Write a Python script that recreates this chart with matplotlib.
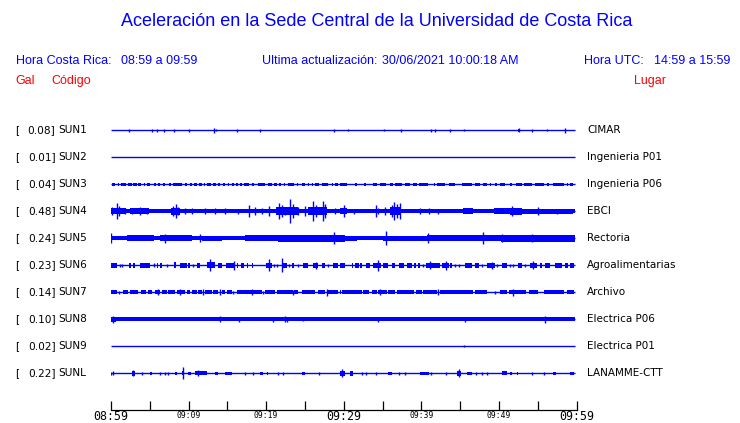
import matplotlib
matplotlib.use('Agg')
import matplotlib.pyplot as plt
import matplotlib.transforms as mtransforms

BLUE = '#0000ff'
RED = '#ff0000'

# station info
codes = ['SUN1', 'SUN2', 'SUN3', 'SUN4', 'SUN5', 'SUN6', 'SUN7', 'SUN8', 'SUN9', 'SUNL']
peaks = [0.08, 0.01, 0.04, 0.48, 0.24, 0.23, 0.14, 0.10, 0.02, 0.22]
places = ['CIMAR', 'Ingenieria P01', 'Ingenieria P06', 'EBCI', 'Rectoria',
          'Agroalimentarias', 'Archivo', 'Electrica P06', 'Electrica P01', 'LANAMME-CTT']

time_ticks = [0, 5, 10, 15, 20, 25, 30, 35, 40, 45, 50, 55, 60]
time_labels = ['08:59', '', '09:09', '', '09:19', '', '09:29', '', '09:39', '', '09:49', '', '09:59']
big_labels = ['08:59', '09:29', '09:59']

trace_end = 59.8   # minutes

# traces: blocks (start min, end min, half amplitude px), spikes (min, half amplitude px)
SUN1_blocks = [(52.5, 52.7, 1.5)]
SUN1_spikes = [(2.3, 1.3), (5.3, 1.3), (5.9, 1.3), (6.8, 1.3), (8.1, 1.3), (10.0, 1.3), (13.3, 2.5),
               (13.5, 1.0), (16.3, 1.3), (19.2, 1.3), (28.7, 1.3), (30.6, 1.0), (35.2, 1.0), (37.4, 1.3),
               (41.3, 1.3), (41.7, 1.3), (43.7, 1.3), (45.5, 1.0), (52.6, 2.0), (54.3, 1.3), (56.2, 1.0),
               (58.5, 2.5)]

SUN2_blocks = []
SUN2_spikes = []

SUN3_blocks = [(0.1, 0.5, 1.5), (0.9, 1.1, 1.5), (1.3, 1.9, 1.5), (2.2, 2.7, 1.5), (2.9, 3.3, 1.5),
               (3.5, 3.9, 1.5), (4.3, 4.4, 1.5), (4.6, 5.0, 1.5), (5.5, 5.8, 1.5), (6.1, 6.3, 1.5),
               (6.75, 7.0, 1.5), (7.5, 7.7, 1.5), (8.0, 9.2, 1.5), (9.55, 9.8, 1.5), (10.2, 10.5, 1.5),
               (10.75, 11.05, 1.5), (11.4, 11.7, 1.5), (11.95, 12.1, 1.5), (12.35, 12.9, 1.5),
               (13.2, 13.5, 1.5), (13.85, 14.05, 1.5), (14.5, 14.7, 1.5), (15.05, 15.2, 1.5),
               (15.55, 15.8, 1.5), (16.1, 16.4, 1.5), (16.65, 16.95, 1.5), (17.2, 17.8, 1.5),
               (18.15, 18.45, 1.5), (18.9, 19.8, 1.5), (20.3, 20.7, 1.5), (21.05, 21.4, 1.5),
               (21.65, 21.95, 1.5), (22.25, 22.45, 1.5), (22.85, 23.6, 1.5), (23.95, 24.15, 1.5),
               (24.6, 25.0, 1.5), (25.35, 25.55, 1.5), (25.9, 26.1, 1.5), (26.3, 26.75, 1.5),
               (27.15, 27.95, 1.5), (28.45, 28.65, 1.5), (28.9, 29.2, 1.5), (29.5, 30.4, 1.5),
               (31.45, 31.65, 1.5), (32.55, 32.9, 1.5), (33.8, 34.25, 1.5), (34.65, 35.5, 1.5),
               (35.9, 36.4, 1.5), (36.6, 37.45, 1.5), (37.95, 38.5, 1.5), (38.9, 39.4, 1.5),
               (39.65, 40.8, 1.5), (41.6, 41.8, 1.5), (42.0, 43.05, 1.5), (43.5, 44.3, 1.5),
               (45.25, 46.5, 1.5), (46.9, 47.55, 1.5), (47.95, 48.45, 1.5), (48.8, 48.95, 1.5),
               (49.5, 49.7, 1.5), (50.15, 50.75, 1.5), (51.4, 51.7, 1.5), (52.2, 52.95, 1.5),
               (53.25, 54.2, 1.5), (54.7, 55.75, 1.5), (56.15, 56.45, 1.5), (56.9, 58.35, 1.5),
               (58.75, 58.95, 1.5), (59.15, 59.6, 1.5)]
SUN3_spikes = []

SUN4_blocks = [(0.0, 59.8, 2.0), (0.0, 1.9, 3.0), (2.5, 4.9, 3.0), (7.7, 8.9, 3.5), (21.3, 24.1, 4.0),
               (25.4, 27.8, 4.0), (29.5, 30.4, 3.0), (36.0, 37.4, 4.0), (45.4, 46.7, 3.0),
               (49.3, 51.4, 3.0), (51.4, 53.0, 3.5), (53.0, 59.6, 2.5)]
SUN4_spikes = [(0.1, 4), (0.74, 8), (1.05, 5), (1.82, 3), (2.68, 3), (3.75, 4), (4.61, 3), (8.04, 5),
               (8.34, 7), (8.69, 4), (9.59, 3), (10.41, 3), (12.12, 3), (13.44, 3), (14.7, 3), (16.33, 2.5),
               (17.8, 6), (18.57, 4), (19.43, 3), (20.41, 5), (21.67, 8), (22.0, 6), (22.44, 4), (23.08, 12),
               (23.51, 7), (24.15, 4), (25.01, 5), (26.0, 10), (26.39, 6), (27.37, 10), (27.59, 7),
               (28.88, 3), (29.97, 6), (31.28, 2.5), (34.17, 6), (34.46, 3), (35.32, 4), (36.19, 6),
               (36.48, 9), (36.87, 7), (37.25, 8), (39.86, 3), (40.92, 3), (42.17, 2.5), (51.62, 5),
               (55.08, 4), (57.5, 2.5)]

SUN5_blocks = [(0.0, 59.8, 2.0), (2.1, 5.6, 3.0), (6.3, 10.5, 3.0), (11.7, 14.3, 2.5), (17.3, 21.5, 3.0),
               (21.5, 30.1, 3.3), (29.5, 31.7, 2.5), (35.1, 40.7, 2.5), (40.7, 47.6, 3.0),
               (47.6, 50.2, 3.0), (50.2, 59.8, 3.2)]
SUN5_spikes = [(0.05, 5), (7.0, 4.5), (11.5, 4), (28.8, 6), (35.4, 7), (40.8, 5), (47.9, 6), (50.4, 4),
               (54.2, 4)]

SUN6_blocks = [(0.0, 0.74, 2.3), (2.33, 2.59, 2.3), (2.89, 3.11, 2.3), (3.75, 5.04, 2.3), (5.9, 6.12, 2.3),
               (6.33, 6.63, 2.3), (8.13, 8.39, 3.0), (8.9, 9.76, 2.3), (9.97, 10.19, 2.3),
               (11.05, 11.49, 2.3), (12.34, 13.41, 3.0), (13.85, 14.27, 2.3), (14.79, 16.0, 2.3),
               (16.21, 16.42, 2.3), (16.72, 17.19, 2.3), (17.49, 17.71, 2.3), (18.14, 18.36, 2.3),
               (20.0, 20.72, 2.3), (22.0, 22.65, 2.3), (23.37, 23.64, 2.3), (24.8, 25.44, 2.3),
               (26.09, 26.74, 2.3), (27.25, 27.59, 2.3), (28.66, 29.31, 2.3), (29.52, 30.17, 2.3),
               (31.0, 31.2, 2.3), (31.47, 31.95, 2.3), (32.14, 32.33, 2.3), (32.91, 33.4, 2.3),
               (33.78, 34.84, 2.3), (35.04, 35.71, 2.3), (36.19, 36.58, 2.3), (37.06, 37.73, 2.3),
               (38.12, 38.8, 2.3), (39.08, 39.28, 2.3), (39.57, 39.86, 2.3), (40.63, 42.36, 2.3),
               (42.65, 43.52, 2.3), (43.71, 43.9, 2.3), (45.64, 46.51, 2.3), (46.89, 47.37, 2.3),
               (48.43, 49.5, 2.3), (50.36, 51.04, 2.3), (52.48, 52.97, 2.3), (54.03, 54.89, 2.3),
               (55.28, 55.57, 2.3), (55.95, 56.63, 2.3), (57.21, 58.07, 2.3), (58.56, 58.94, 2.3),
               (59.13, 59.61, 2.3)]
SUN6_spikes = [(1.2, 1.5), (1.45, 1.5), (5.5, 2), (7.2, 1.5), (10.62, 1.5), (12.77, 6), (15.9, 4.5),
               (20.41, 6), (21.06, 1.5), (21.44, 1.5), (22.09, 7), (22.95, 1.5), (24.05, 1.5), (26.39, 3.5),
               (28.02, 1.5), (34.46, 5.5), (40.19, 1.5), (41.11, 4), (43.13, 4.5), (44.29, 1.5),
               (44.87, 1.5), (47.76, 1.5), (49.11, 3.5), (49.69, 1.5), (51.42, 1.5), (51.81, 1.5),
               (53.35, 1.5), (54.41, 4)]

SUN7_blocks = [(0.0, 0.74, 2.0), (1.61, 2.17, 2.0), (2.45, 3.53, 2.0), (3.88, 4.48, 2.0), (4.74, 5.25, 2.0),
               (5.68, 6.33, 2.0), (6.63, 7.19, 2.0), (7.4, 8.26, 2.0), (8.48, 9.55, 2.0), (9.76, 10.19, 2.0),
               (10.41, 11.05, 2.0), (11.26, 11.7, 2.0), (12.12, 12.99, 2.0), (13.2, 13.85, 2.0),
               (14.27, 14.71, 2.0), (14.92, 15.56, 2.0), (16.21, 18.14, 2.0), (18.36, 19.43, 2.0),
               (19.86, 21.14, 2.0), (21.37, 23.51, 2.0), (23.64, 24.15, 2.0), (24.59, 26.3, 2.0),
               (26.74, 27.59, 2.0), (27.8, 29.31, 2.0), (29.5, 29.7, 2.0), (29.73, 30.17, 2.0),
               (30.21, 32.33, 2.0), (32.53, 33.2, 2.0), (33.59, 34.27, 2.0), (34.46, 35.52, 2.0),
               (35.71, 36.58, 2.0), (36.87, 39.08, 2.0), (39.28, 40.05, 2.0), (40.24, 41.98, 2.0),
               (42.36, 46.7, 2.0), (46.89, 48.43, 2.0), (50.17, 51.04, 2.0), (51.23, 53.54, 2.0),
               (53.93, 55.09, 2.0), (55.76, 58.36, 2.0), (58.75, 59.61, 2.0)]
SUN7_spikes = [(1.05, 1.5), (6.02, 3), (8.9, 3), (11.9, 3), (14.06, 3), (15.76, 1.5), (18.14, 3),
               (19.61, 1.5), (23.51, 2.5), (27.8, 3.5), (34.65, 3), (42.17, 3), (49.5, 1.5), (51.81, 3.5)]

SUN8_blocks = [(0.0, 59.8, 2.0), (0.0, 0.6, 2.8)]
SUN8_spikes = [(0.31, 3.5), (14.06, 3), (16.55, 2.5), (20.93, 2.5), (22.44, 3), (22.65, 2.5), (24.8, 2),
               (34.46, 2.5), (45.64, 2.5), (55.95, 3.5)]

SUN9_blocks = []
SUN9_spikes = [(45.45, 1.0)]

SUNL_blocks = [(2.68, 3.11, 2.5), (5.04, 5.25, 1.5), (8.26, 8.48, 1.5), (9.11, 9.46, 2.0), (9.97, 10.32, 1.5),
               (10.84, 12.34, 2.0), (13.41, 13.76, 1.5), (14.7, 15.56, 1.5), (19.23, 19.61, 1.5),
               (20.09, 20.29, 1.5), (24.59, 25.01, 1.5), (29.54, 30.17, 2.5), (30.79, 31.18, 2.5),
               (35.71, 36.19, 1.5), (39.76, 40.92, 1.5), (44.58, 45.06, 2.5), (45.83, 46.51, 1.5),
               (50.36, 51.04, 2.0), (51.42, 51.62, 1.5), (52.29, 52.48, 1.5), (57.01, 57.4, 1.5),
               (59.13, 59.61, 1.5)]
SUNL_spikes = [(0.05, 1.5), (0.31, 2), (2.89, 3), (4.05, 1.5), (6.31, 1.5), (6.98, 1.5), (7.37, 1.5),
               (9.34, 6), (11.26, 3), (17.3, 1.5), (18.36, 1.5), (21.54, 1.5), (22.21, 1.5), (26.75, 1.5),
               (29.73, 4), (32.33, 1.5), (32.91, 1.5), (34.17, 1.5), (37.16, 1.5), (37.83, 1.5),
               (41.3, 1.5), (43.23, 1.5), (44.87, 4), (47.08, 1.5), (47.76, 1.5), (48.43, 1.5),
               (54.22, 1.5), (55.76, 1.5)]

all_blocks = [SUN1_blocks, SUN2_blocks, SUN3_blocks, SUN4_blocks, SUN5_blocks,
              SUN6_blocks, SUN7_blocks, SUN8_blocks, SUN9_blocks, SUNL_blocks]
all_spikes = [SUN1_spikes, SUN2_spikes, SUN3_spikes, SUN4_spikes, SUN5_spikes,
              SUN6_spikes, SUN7_spikes, SUN8_spikes, SUN9_spikes, SUNL_spikes]

W, H = 740, 423
PX = 27.0  # pixels between traces

fig = plt.figure(figsize=(W / 100, H / 100), dpi=100)
fig.patch.set_facecolor('white')

ax = fig.add_axes([110.9 / W, 12.6 / H, 465.7 / W, 300.4 / H])
ax.set_xlim(0, 60)
ax.set_ylim((410.4 - 130.3) / PX, (110 - 130.3) / PX)

for i in range(len(codes)):
    ax.hlines(i, 0, trace_end, color=BLUE, lw=1.0)
    for t0, t1, a in all_blocks[i]:
        ax.broken_barh([(t0, t1 - t0)], (i - a / PX, 2 * a / PX), facecolor=BLUE, lw=0)
    if all_spikes[i]:
        ts = [s[0] for s in all_spikes[i]]
        amps = [s[1] / PX for s in all_spikes[i]]
        ax.vlines(ts, [i - a for a in amps], [i + a for a in amps], color=BLUE, lw=1.0)

# time axis: ticks on the bottom spine, labels placed by hand under them
for side in ['top', 'left', 'right']:
    ax.spines[side].set_visible(False)
ax.spines['bottom'].set_linewidth(0.9)
ax.set_yticks([])
ax.set_xticks(time_ticks)
ax.set_xticklabels([])
ax.tick_params(axis='x', direction='in', length=6.3, width=0.9, color='black')
ax.set_facecolor('none')

tlab = mtransforms.blended_transform_factory(ax.transData, fig.transFigure)
for t, lbl in zip(time_ticks, time_labels):
    if not lbl:
        continue
    if lbl in big_labels:
        ax.text(t, 1 - 420.3 / H, lbl, transform=tlab, ha='center', va='baseline', fontsize=8.4,
                family='DejaVu Sans Mono', clip_on=False)
    else:
        ax.text(t, 1 - 418.3 / H, lbl, transform=tlab, ha='center', va='baseline', fontsize=5.8,
                family='DejaVu Sans Mono', clip_on=False)

# station labels
trans = mtransforms.blended_transform_factory(fig.transFigure, ax.transData)
for i in range(len(codes)):
    ax.text(15 / W, i, '[', transform=trans, ha='left', va='center', fontsize=7.6,
            family='DejaVu Sans', clip_on=False)
    ax.text(55.5 / W, i, f'{peaks[i]:.2f}]', transform=trans, ha='right', va='center', fontsize=7.6,
            family='DejaVu Sans', clip_on=False)
    ax.text(58.3 / W, i, codes[i], transform=trans, ha='left', va='center', fontsize=7.6,
            family='DejaVu Sans', clip_on=False)
    ax.text(587 / W, i, places[i], transform=trans, ha='left', va='center', fontsize=7.5,
            family='DejaVu Sans', clip_on=False)

# header
hf = 'Liberation Sans'
fig.text(377 / W, 1 - 22 / H, 'Aceleración en la Sede Central de la Universidad de Costa Rica',
         ha='center', va='center', fontsize=13, family=hf, color=BLUE)
row2 = 1 - 61 / H
fig.text(15.6 / W, row2, 'Hora Costa Rica:', ha='left', va='center', fontsize=9, family=hf, color=BLUE)
fig.text(121 / W, row2, '08:59 a 09:59', ha='left', va='center', fontsize=9, family=hf, color=BLUE)
fig.text(262 / W, row2, 'Ultima actualización:', ha='left', va='center', fontsize=9, family=hf, color=BLUE)
fig.text(382 / W, row2, '30/06/2021 10:00:18 AM', ha='left', va='center', fontsize=9, family=hf, color=BLUE)
fig.text(583.5 / W, row2, 'Hora UTC:', ha='left', va='center', fontsize=9, family=hf, color=BLUE)
fig.text(653.7 / W, row2, '14:59 a 15:59', ha='left', va='center', fontsize=9, family=hf, color=BLUE)
row3 = 1 - 81 / H
fig.text(15.6 / W, row3, 'Gal', ha='left', va='center', fontsize=9, family=hf, color=RED)
fig.text(51.2 / W, row3, 'Código', ha='left', va='center', fontsize=9, family=hf, color=RED)
fig.text(634 / W, row3, 'Lugar', ha='left', va='center', fontsize=9, family=hf, color=RED)

fig.savefig('out.png', dpi=100)
